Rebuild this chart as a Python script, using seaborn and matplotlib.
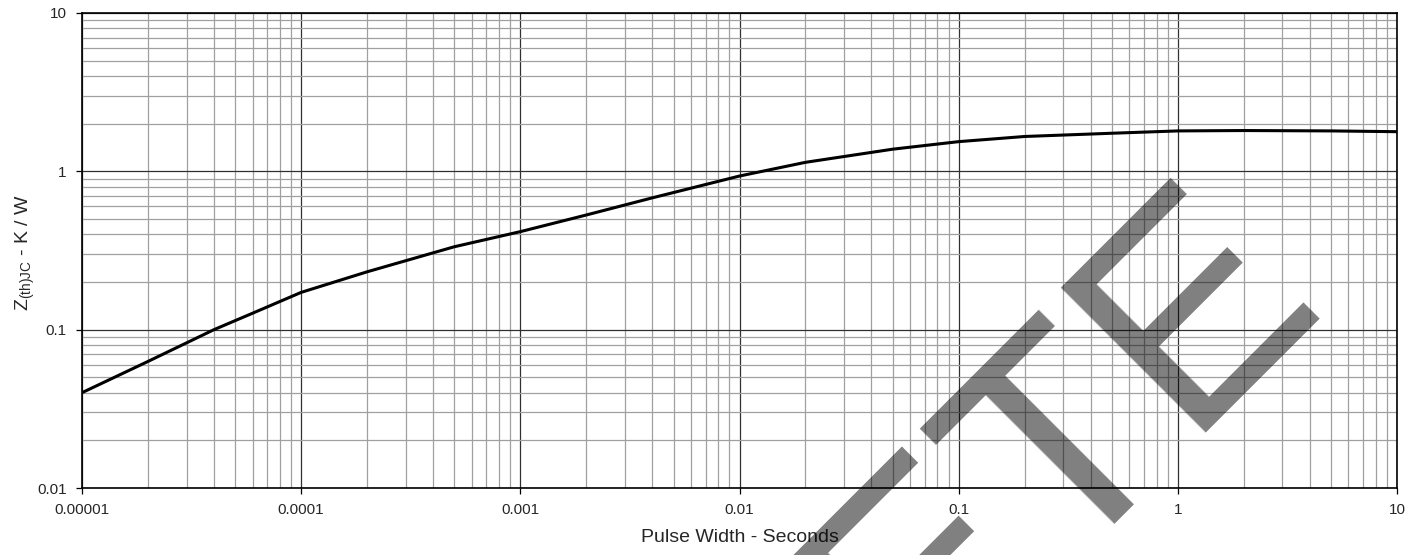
import numpy as np
import pandas as pd
import matplotlib
matplotlib.use("Agg")
import matplotlib.pyplot as plt
import seaborn as sns

# transient thermal impedance
pulse_width = [1e-5, 2e-5, 4e-5, 6e-5, 1e-4, 2e-4, 5e-4, 1e-3, 2e-3, 4e-3,
               1e-2, 2e-2, 5e-2, 0.1, 0.2, 0.5, 1, 2, 5, 10]
zth = [0.040, 0.063, 0.100, 0.127, 0.172, 0.232, 0.334, 0.416, 0.530, 0.680,
       0.934, 1.14, 1.38, 1.54, 1.66, 1.74, 1.80, 1.81, 1.80, 1.78]

x_ticks = [1e-5, 1e-4, 1e-3, 1e-2, 0.1, 1, 10]
x_ticklabels = ['0.00001', '0.0001', '0.001', '0.01', '0.1', '1', '10']
y_ticks = [0.01, 0.1, 1, 10]
y_ticklabels = ['0.01', '0.1', '1', '10']

df = pd.DataFrame({'PulseWidth': pulse_width, 'Zth': zth})

sns.set_style("white")
plt.rcParams['font.family'] = ['Liberation Sans', 'DejaVu Sans']
plt.rcParams['mathtext.fontset'] = 'custom'
plt.rcParams['mathtext.rm'] = 'Liberation Sans'
plt.rcParams['mathtext.it'] = 'Liberation Sans'

fig = plt.figure(figsize=(14.26, 5.55), dpi=100)
ax = fig.add_axes([82/1426, 1-488/555, 1315/1426, 475/555])

sns.lineplot(data=df, x='PulseWidth', y='Zth', color='black', linewidth=2.2, ax=ax, zorder=5)

ax.set_xscale('log')
ax.set_yscale('log')
ax.set_xlim(1e-5, 10)
ax.set_ylim(0.01, 10)

ax.set_xticks(x_ticks)
ax.set_xticklabels(x_ticklabels)
ax.set_yticks(y_ticks)
ax.set_yticklabels(y_ticklabels)
ax.xaxis.set_minor_locator(matplotlib.ticker.LogLocator(base=10, subs=np.arange(2, 10)))
ax.yaxis.set_minor_locator(matplotlib.ticker.LogLocator(base=10, subs=np.arange(2, 10)))
ax.xaxis.set_minor_formatter(matplotlib.ticker.NullFormatter())
ax.yaxis.set_minor_formatter(matplotlib.ticker.NullFormatter())

ax.grid(True, which='minor', color='#a0a0a0', linewidth=0.9)
ax.grid(True, which='major', color='#303030', linewidth=0.9)
ax.set_axisbelow(True)

ax.tick_params(which='major', direction='out', length=4, width=0.9, color='black',
               labelsize=11, pad=7, bottom=True, left=True)
ax.tick_params(which='minor', length=0)
for s in ax.spines.values():
    s.set_color('black')
    s.set_linewidth(1.2)

ax.set_xlabel('Pulse Width - Seconds', fontsize=14)
ax.set_ylabel(r'Z$_{\mathrm{(th)JC}}$ - K / W', fontsize=14)
ax.xaxis.set_label_coords(0.5, -0.087)
ax.yaxis.set_label_coords(-0.034, 0.495)

# watermark
fig.text(1326/1426, 1-299/555, 'OBSOLETE', fontsize=214, color='black', alpha=0.5,
         rotation=45, rotation_mode='anchor', ha='right', va='baseline',
         family='Liberation Sans', zorder=10)

fig.savefig('out.png', dpi=100)
